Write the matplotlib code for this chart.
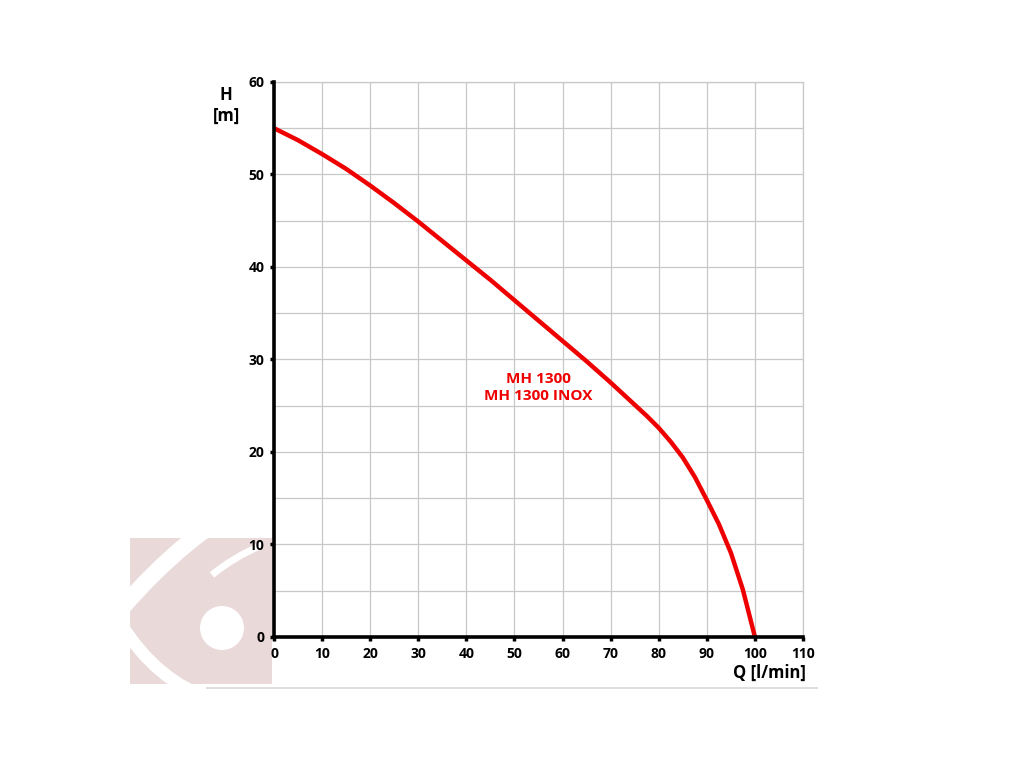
import numpy as np
import matplotlib
matplotlib.use('Agg')
import matplotlib.pyplot as plt
from matplotlib.path import Path
from matplotlib.patches import PathPatch, Rectangle, Circle

# pump curve: Q [l/min] -> H [m]
flow = [0, 5, 10, 15, 20, 25, 30, 35, 40, 45, 50, 55, 60, 65, 70, 75, 77.5, 80, 82.5, 85, 87.5,
        90, 92.5, 95, 97.5, 100]
head = [55.0, 53.7, 52.2, 50.6, 48.8, 46.9, 44.9, 42.8, 40.7, 38.6, 36.4, 34.2, 32.0, 29.8, 27.5, 25.1,
        23.9, 22.6, 21.1, 19.4, 17.3, 14.8, 12.2, 9.1, 5.1, 0.0]
curve_label = "MH 1300\nMH 1300 INOX"
x_ticks = list(range(0, 111, 10))
y_ticks = list(range(0, 61, 10))

RED = '#ee0000'
PINK = '#ead9d9'
FONT = ['Open Sans', 'DejaVu Sans']
plt.rcParams['font.family'] = FONT

fig = plt.figure(figsize=(10.24, 7.68), dpi=100)

# --- watermark logo drawn in figure pixel coords ---
bg = fig.add_axes([0, 0, 1, 1], zorder=0)
bg.set_xlim(0, 1024)
bg.set_ylim(768, 0)
bg.axis('off')
clip = Rectangle((130, 538), 142, 146, transform=bg.transData)
bg.add_patch(Rectangle((130, 538), 142, 146, facecolor=PINK, edgecolor='none'))
band1 = Path([(235, 510), (170, 548), (105, 628)], [Path.MOVETO, Path.CURVE3, Path.CURVE3])
band2 = Path([(110, 605), (145, 672), (200, 695)], [Path.MOVETO, Path.CURVE3, Path.CURVE3])
band3 = Path([(212, 575), (232, 558), (262, 545)], [Path.MOVETO, Path.CURVE3, Path.CURVE3])
for p, w in [(band1, 12), (band2, 9), (band3, 5)]:
    pp = bg.add_patch(PathPatch(p, facecolor='none', edgecolor='white', lw=w))
    pp.set_clip_path(clip)
bg.add_patch(Circle((222, 628), 22, facecolor='white', edgecolor='none'))
bg.plot([207, 817], [688, 688], color='#d8d8d8', lw=1.2)

# --- main chart ---
ax = fig.add_axes([0.2676, 0.1706, 0.5166, 0.7227], zorder=1)
ax.set_facecolor('none')
ax.set_xlim(0, 110)
ax.set_ylim(0, 60)
ax.set_xticks(x_ticks)
ax.set_yticks(y_ticks)
ax.set_yticks(range(5, 60, 10), minor=True)
ax.grid(True, which='both', color='#c8c8c8', lw=0.9)
ax.tick_params(which='minor', length=0)
ax.tick_params(which='major', direction='out', length=3, width=2.5, color='black',
               labelsize=10, pad=4)
for lab in ax.get_xticklabels() + ax.get_yticklabels():
    lab.set_fontweight('bold')
ax.set_axisbelow(True)

for side in ['left', 'bottom']:
    ax.spines[side].set_linewidth(2.6)
    ax.spines[side].set_color('black')
    ax.spines[side].set_zorder(4)
for side in ['top', 'right']:
    ax.spines[side].set_linewidth(0.9)
    ax.spines[side].set_color('#c8c8c8')

ax.plot(flow, head, color=RED, lw=3.2, solid_joinstyle='round', solid_capstyle='butt', zorder=3)
ax.text(55, 27, curve_label, color=RED, fontsize=11, fontweight='bold',
        ha='center', va='center', linespacing=1.25)

fig.text(226 / 1024, 1 - 95 / 768, 'H', ha='center', va='center', fontsize=12, fontweight='bold')
fig.text(226 / 1024, 1 - 116 / 768, '[m]', ha='center', va='center', fontsize=12, fontweight='bold')
fig.text(806 / 1024, 1 - 673 / 768, 'Q [l/min]', ha='right', va='center', fontsize=12, fontweight='bold')

fig.savefig('out.png', dpi=100, facecolor='white')
